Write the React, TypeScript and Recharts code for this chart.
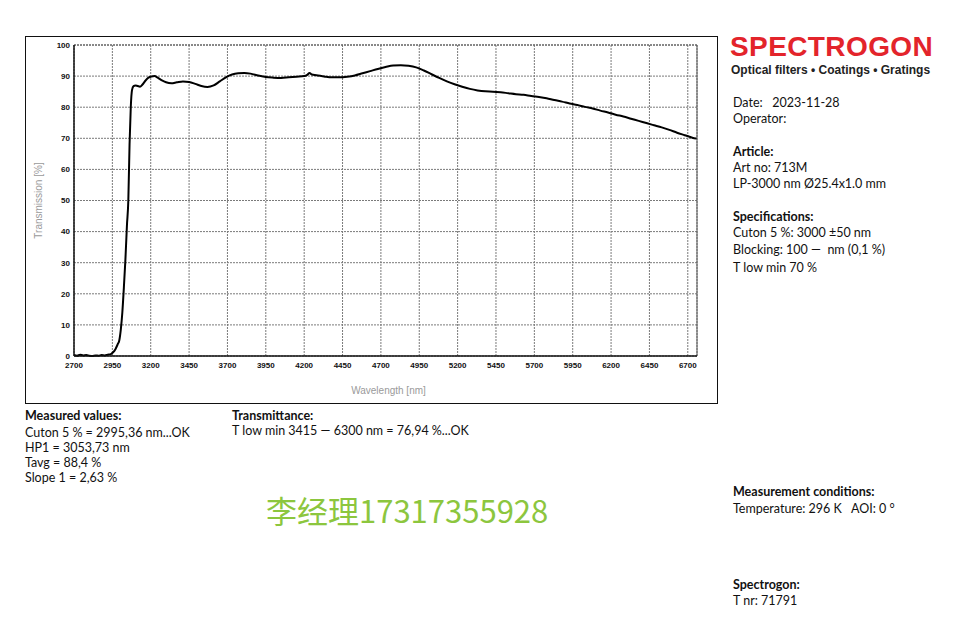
import { CartesianGrid, Line, LineChart, ReferenceLine, XAxis, YAxis } from "recharts";

// measured spectrum
const wavelength = [
  2700, 2720, 2740, 2760, 2780, 2800, 2820, 2840, 2860, 2880, 2900, 2920, 2940, 2955, 2970, 2985, 2995,
  3005, 3015, 3025, 3035, 3045, 3054, 3062, 3070, 3078, 3088, 3100, 3115, 3130, 3145, 3165, 3185, 3205,
  3225, 3245, 3270, 3300, 3335, 3370, 3410, 3450, 3490, 3530, 3570, 3610, 3650, 3690, 3730, 3770, 3810,
  3850, 3900, 3950, 4000, 4050, 4100, 4150, 4200, 4220, 4235, 4250, 4280, 4330, 4380, 4430, 4480, 4530,
  4580, 4630, 4680, 4730, 4780, 4830, 4880, 4930, 4980, 5030, 5080, 5130, 5180, 5230, 5280, 5330, 5380,
  5430, 5480, 5530, 5580, 5630, 5680, 5730, 5780, 5830, 5880, 5930, 5980, 6030, 6080, 6130, 6180, 6230,
  6280, 6330, 6380, 6430, 6480, 6530, 6580, 6630, 6680, 6730, 6757,
];
const transmission = [
  0.3, 0.1, 0.4, 0.2, 0.3, 0.1, 0.0, 0.2, 0.1, 0.3, 0.2, 0.4, 0.6, 1.2, 2.2, 3.8, 5.0,
  8.5, 14, 22, 31, 42, 50, 68, 80, 85.5, 86.8, 87.0, 86.8, 86.6, 87.2, 88.5, 89.5, 89.9,
  90.0, 89.5, 88.7, 88.0, 87.7, 88.0, 88.3, 88.1, 87.5, 86.8, 86.5, 87.0, 88.3, 89.6, 90.5, 90.9, 91.0,
  90.8, 90.2, 89.7, 89.5, 89.4, 89.6, 89.8, 90.0, 90.4, 91.0, 90.5, 90.3, 89.9, 89.6, 89.6, 89.8, 90.2,
  90.9, 91.6, 92.3, 92.9, 93.4, 93.5, 93.3, 92.8, 91.8, 90.6, 89.4, 88.3, 87.4, 86.6, 85.9, 85.4, 85.1,
  85.0, 84.8, 84.5, 84.2, 84.0, 83.6, 83.3, 82.9, 82.3, 81.8, 81.2, 80.7, 80.1, 79.6, 78.9, 78.3, 77.6,
  77.0, 76.3, 75.6, 74.9, 74.2, 73.5, 72.7, 71.8, 71.0, 70.2, 69.9,
];
const xTicks = [2700, 2950, 3200, 3450, 3700, 3950, 4200, 4450, 4700, 4950, 5200, 5450, 5700, 5950, 6200, 6450, 6700];
const yTicks = [0, 10, 20, 30, 40, 50, 60, 70, 80, 90, 100];

const measured = ["Cuton 5 % = 2995,36 nm...OK", "HP1 = 3053,73 nm", "Tavg = 88,4 %", "Slope 1 = 2,63 %"];

const data = wavelength.map((w, i) => ({ w, t: transmission[i] }));

const body = "Lato, 'Open Sans', sans-serif";
const tickStyle = { fontSize: 8, fontWeight: 700, fill: "#111", fontFamily: "'Liberation Sans', Arial" };

const txt = (left: number, top: number, s: string, bold = false) => (
  <div
    style={{
      position: "absolute",
      left,
      top: top + 1.5,
      fontFamily: body,
      fontSize: 12.5,
      fontWeight: bold ? 700 : 400,
      color: "#111",
      whiteSpace: "pre",
      lineHeight: "16px",
    }}
  >
    {s}
  </div>
);

export default function App() {
  return (
    <div style={{ position: "absolute", left: 0, top: 0, width: 970, height: 640, background: "#fff" }}>
      <div style={{ position: "absolute", left: 25, top: 36, width: 691, height: 366, border: "1.5px solid #111" }} />
      <div style={{ position: "absolute", left: 25, top: 36 }}>
        <LineChart width={693} height={368} data={data} margin={{ top: 9, right: 21, left: 0, bottom: 0 }}>
          <CartesianGrid stroke="#7a7a7a" strokeDasharray="2 1" />
          <XAxis
            dataKey="w"
            type="number"
            domain={[2700, 6760]}
            ticks={xTicks}
            allowDataOverflow
            height={48}
            tickLine={false}
            tickSize={0}
            axisLine={{ stroke: "#111", strokeWidth: 1.5 }}
            tick={tickStyle}
            tickMargin={6}
            label={{ value: "Wavelength [nm]", position: "center", dy: 10, dx: 3, fill: "#9a9a9a", fontSize: 10, fontFamily: "'Liberation Sans', Arial" }}
          />
          <YAxis
            type="number"
            domain={[0, 100]}
            ticks={yTicks}
            width={49}
            tickLine={false}
            tickSize={0}
            axisLine={{ stroke: "#111", strokeWidth: 1.5 }}
            tick={tickStyle}
            tickMargin={4}
            label={{ value: "Transmission [%]", angle: -90, position: "center", dx: -11, fill: "#9a9a9a", fontSize: 10, fontFamily: "'Liberation Sans', Arial" }}
          />
          <ReferenceLine x={6760} stroke="#555" />
          <ReferenceLine y={100} stroke="#555" strokeDasharray="2 1" />
          <Line type="monotone" dataKey="t" stroke="#000" strokeWidth={2} dot={false} isAnimationActive={false} />
        </LineChart>
      </div>

      <div
        style={{
          position: "absolute",
          left: 730,
          top: 31,
          fontFamily: "'Liberation Sans', Arial",
          fontWeight: 700,
          fontSize: 28,
          color: "#e3242b",
          letterSpacing: 0.4,
        }}
      >
        SPECTROGON
      </div>
      <div
        style={{
          position: "absolute",
          left: 731,
          top: 63,
          fontFamily: "'Liberation Sans', Arial",
          fontWeight: 700,
          fontSize: 12,
          color: "#222",
          whiteSpace: "pre",
        }}
      >
        Optical filters • Coatings • Gratings
      </div>
      {txt(733, 93, "Date:   2023-11-28")}
      {txt(733, 109, "Operator:")}
      {txt(733, 142, "Article:", true)}
      {txt(733, 158, "Art no: 713M")}
      {txt(733, 174, "LP-3000 nm Ø25.4x1.0 mm")}
      {txt(733, 207, "Specifications:", true)}
      {txt(733, 223, "Cuton 5 %: 3000 ±50 nm")}
      {txt(733, 240, "Blocking: 100 —  nm (0,1 %)")}
      {txt(733, 258, "T low min 70 %")}

      {txt(25, 406, "Measured values:", true)}
      {measured.map((m, i) => (
        <div key={i}>{txt(25, 423 + i * 15, m)}</div>
      ))}
      {txt(232, 406, "Transmittance:", true)}
      {txt(232, 421, "T low min 3415 — 6300 nm = 76,94 %...OK")}

      <div
        style={{
          position: "absolute",
          left: 266,
          top: 490,
          fontFamily: "'Noto Sans CJK SC', sans-serif",
          fontSize: 31,
          color: "#8cc63e",
          whiteSpace: "pre",
          lineHeight: "40px",
        }}
      >
        李经理17317355928
      </div>

      {txt(733, 482, "Measurement conditions:", true)}
      {txt(733, 499, "Temperature: 296 K   AOI: 0 °")}
      {txt(733, 575, "Spectrogon:", true)}
      {txt(733, 591, "T nr: 71791")}
    </div>
  );
}
